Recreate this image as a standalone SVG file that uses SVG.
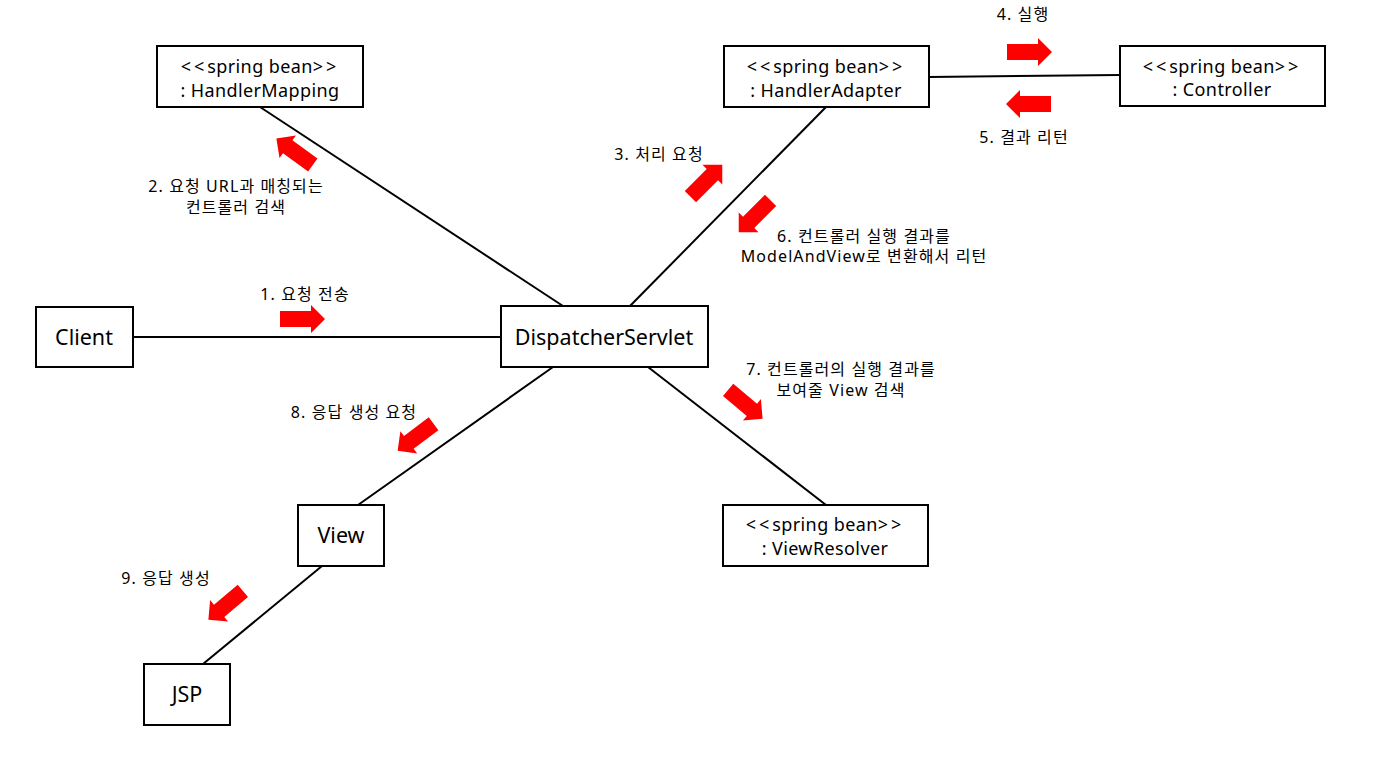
<svg xmlns="http://www.w3.org/2000/svg" xmlns:xlink="http://www.w3.org/1999/xlink" width="1386" height="757" viewBox="0 0 1386 757">
<style>
.box{fill:#fff;stroke:#000;stroke-width:2}
.ln{stroke:#000;stroke-width:2;fill:none}
.t{font-family:"Noto Sans","Noto Sans CJK KR",sans-serif;fill:#000;text-anchor:middle}
.bt{font-size:18px;letter-spacing:0.4px}
.big{font-size:21.5px}
.lb{font-size:16px;letter-spacing:1.1px}
.sp{letter-spacing:3px}
.ar{fill:#ff0000}
</style>
<defs>
<path id="arr" class="ar" d="M-22,-8 L9,-8 L9,-14 L23,0 L9,14 L9,8 L-22,8 Z"/>
</defs>
<rect width="1386" height="757" fill="#fff"/>
<g id="connectors">
<line class="ln" x1="260" y1="107" x2="563" y2="306"/>
<line class="ln" x1="826" y1="107" x2="630" y2="306"/>
<line class="ln" x1="929" y1="77" x2="1120" y2="75"/>
<line class="ln" x1="133" y1="337" x2="501" y2="337"/>
<line class="ln" x1="553" y1="367" x2="358" y2="505"/>
<line class="ln" x1="648" y1="367" x2="826" y2="505"/>
<line class="ln" x1="322" y1="566" x2="203" y2="664"/>
</g>
<g id="arrows">
<use xlink:href="#arr" transform="translate(302,319)"/>
<use xlink:href="#arr" transform="translate(295,152) rotate(-144)"/>
<use xlink:href="#arr" transform="translate(706,181) rotate(-45)"/>
<use xlink:href="#arr" transform="translate(1029,52)"/>
<use xlink:href="#arr" transform="translate(1029,104) rotate(180)"/>
<use xlink:href="#arr" transform="translate(755,216) rotate(135)"/>
<use xlink:href="#arr" transform="translate(745,404) rotate(40)"/>
<use xlink:href="#arr" transform="translate(416,437) rotate(143)"/>
<use xlink:href="#arr" transform="translate(226,605) rotate(140)"/>
</g>
<g id="labels">
<text class="t lb" x="305" y="300">1. 요청 전송</text>
<text class="t lb" x="236" y="192">2. 요청 URL과 매칭되는</text>
<text class="t lb" x="236" y="213">컨트롤러 검색</text>
<text class="t lb" x="659" y="160">3. 처리 요청</text>
<text class="t lb" x="1023" y="20">4. 실행</text>
<text class="t lb" x="1024" y="143">5. 결과 리턴</text>
<text class="t lb" x="864" y="242">6. 컨트롤러 실행 결과를</text>
<text class="t lb" x="864" y="262">ModelAndView로 변환해서 리턴</text>
<text class="t lb" x="841" y="375">7. 컨트롤러의 실행 결과를</text>
<text class="t lb" x="841" y="396">보여줄 View 검색</text>
<text class="t lb" x="354" y="418">8. 응답 생성 요청</text>
<text class="t lb" x="166" y="584">9. 응답 생성</text>
</g>
<g id="handlerMapping">
<rect class="box" x="157" y="46" width="206" height="61"/>
<text class="t bt" x="260" y="73"><tspan class="sp">&lt;&lt;</tspan>spring bean<tspan class="sp">&gt;&gt;</tspan></text>
<text class="t bt" x="260" y="97">: HandlerMapping</text>
</g>
<g id="handlerAdapter">
<rect class="box" x="724" y="46" width="205" height="61"/>
<text class="t bt" x="826" y="73"><tspan class="sp">&lt;&lt;</tspan>spring bean<tspan class="sp">&gt;&gt;</tspan></text>
<text class="t bt" x="826" y="97">: HandlerAdapter</text>
</g>
<g id="controller">
<rect class="box" x="1120" y="46" width="205" height="60"/>
<text class="t bt" x="1222" y="73"><tspan class="sp">&lt;&lt;</tspan>spring bean<tspan class="sp">&gt;&gt;</tspan></text>
<text class="t bt" x="1222" y="96">: Controller</text>
</g>
<g id="client">
<rect class="box" x="36" y="307" width="97" height="60"/>
<text class="t big" x="84" y="345">Client</text>
</g>
<g id="dispatcherServlet">
<rect class="box" x="501" y="306" width="207" height="61"/>
<text class="t big" x="604" y="345">DispatcherServlet</text>
</g>
<g id="view">
<rect class="box" x="298" y="505" width="86" height="61"/>
<text class="t big" x="341" y="543">View</text>
</g>
<g id="viewResolver">
<rect class="box" x="723" y="505" width="205" height="61"/>
<text class="t bt" x="825" y="531"><tspan class="sp">&lt;&lt;</tspan>spring bean<tspan class="sp">&gt;&gt;</tspan></text>
<text class="t bt" x="825" y="555">: ViewResolver</text>
</g>
<g id="jsp">
<rect class="box" x="144" y="664" width="86" height="61"/>
<text class="t big" x="187" y="702">JSP</text>
</g>
</svg>
